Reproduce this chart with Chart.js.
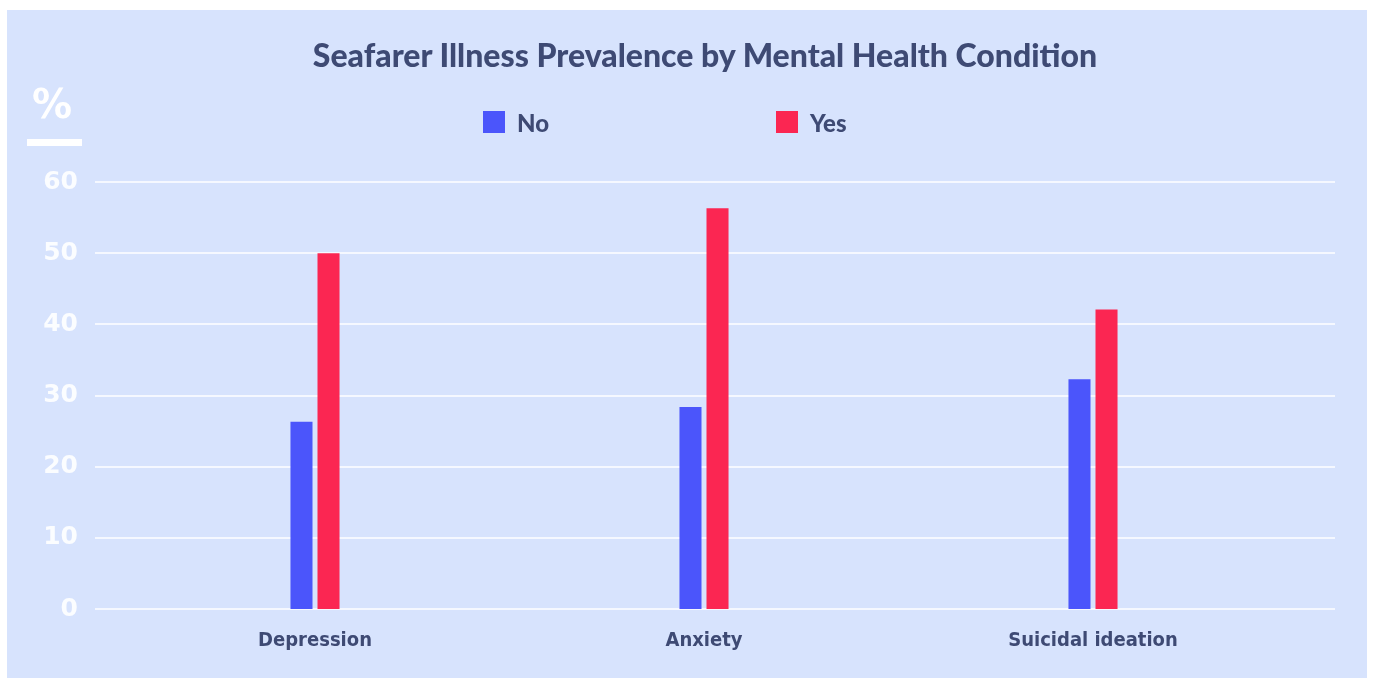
<!DOCTYPE html>
<html>
<head>
<meta charset="utf-8">
<title>Seafarer Illness Prevalence by Mental Health Condition</title>
<script src="https://cdn.jsdelivr.net/npm/chart.js@4.4.0/dist/chart.umd.min.js"></script>
<style>
    body { margin: 0; background: #ffffff; width: 1373px; height: 678px; overflow: hidden; }
    #panel { position: absolute; left: 7px; top: 10px; width: 1360px; height: 668px; background: #d7e3fd; }
    #chart { position: absolute; left: 0; top: 0; }
    #title { position: absolute; left: 18px; top: 25px; width: 1360px; text-align: center;
             font: 900 32px Lato, sans-serif; color: #3e4a74; }
    #unit { position: absolute; left: 25px; top: 74px; font: 700 40px/40px 'DejaVu Sans', sans-serif; color: #ffffff; }
    #unit-bar { position: absolute; left: 20px; top: 129px; width: 55px; height: 7px; background: #ffffff; }
    #legend { position: absolute; left: 476px; top: 101px; display: flex; }
    .legend-item { width: 293px; height: 22px; display: flex; align-items: center;
                   font: 900 24px Lato, sans-serif; color: #3e4a74; }
    .legend-box { width: 22px; height: 22px; margin-right: 12px; }
</style>
</head>
<body>
<div id="panel">
    <canvas id="chart" width="1360" height="668"></canvas>
    <div id="title">Seafarer Illness Prevalence by Mental Health Condition</div>
    <div id="unit">%</div>
    <div id="unit-bar"></div>
    <div id="legend"></div>
</div>
<script>
// Datos del gráfico
const categories = ['Depression', 'Anxiety', 'Suicidal ideation'];
const seriesNames = ['No', 'Yes'];
const seriesColors = ['#4b55fb', '#fb2652'];
const noValues = [26.3, 28.4, 32.3];
const yesValues = [50.0, 56.3, 42.1];
const yMin = 0;
const yMax = 60;
const yStep = 10;

// Líneas horizontales de la cuadrícula (más anchas que el área del gráfico)
const wideGrid = {
    id: 'wideGrid',
    beforeDatasetsDraw(chart) {
        const y = chart.scales.y;
        const ctx = chart.ctx;
        ctx.save();
        ctx.strokeStyle = 'rgba(255, 255, 255, 0.75)';
        ctx.lineWidth = 2;
        y.ticks.forEach(t => {
            const py = Math.round(y.getPixelForValue(t.value));
            ctx.beginPath();
            ctx.moveTo(88, py);
            ctx.lineTo(1328, py);
            ctx.stroke();
        });
        ctx.restore();
    }
};

// Leyenda en HTML
function buildLegend() {
    const legend = document.getElementById('legend');
    legend.innerHTML = seriesNames.map((name, i) => `
        <div class="legend-item">
            <div class="legend-box" style="background:${seriesColors[i]}"></div>${name}
        </div>`).join('');
}

function initChart() {
    const ctx = document.getElementById('chart').getContext('2d');
    new Chart(ctx, {
        type: 'bar',
        data: {
            labels: categories,
            datasets: [
                { label: seriesNames[0], data: noValues, backgroundColor: seriesColors[0] },
                { label: seriesNames[1], data: yesValues, backgroundColor: seriesColors[1] }
            ]
        },
        options: {
            responsive: false,
            animation: false,
            categoryPercentage: 0.139,
            barPercentage: 0.815,
            layout: { padding: { top: 172, right: 79.5, bottom: 0, left: 0 } },
            plugins: {
                legend: { display: false },
                title: { display: false },
                tooltip: { enabled: false }
            },
            scales: {
                x: {
                    afterFit(scale) { scale.height = 69; },
                    grid: { display: false },
                    border: { display: false },
                    ticks: {
                        padding: 12,
                        color: '#3e4a74',
                        font: { family: "'DejaVu Sans Condensed', 'Liberation Sans Narrow', sans-serif", size: 20, weight: 'bold' }
                    }
                },
                y: {
                    min: yMin,
                    max: yMax,
                    afterFit(scale) { scale.width = 113.5; },
                    grid: { display: false, drawTicks: false },
                    border: { display: false },
                    ticks: {
                        stepSize: yStep,
                        padding: 42.5,
                        color: 'rgba(255, 255, 255, 0.9)',
                        font: { family: "'DejaVu Sans', sans-serif", size: 25, weight: 'bold' }
                    }
                }
            }
        },
        plugins: [wideGrid]
    });
}

document.addEventListener('DOMContentLoaded', function() {
    buildLegend();
    initChart();
});
</script>
</body>
</html>
